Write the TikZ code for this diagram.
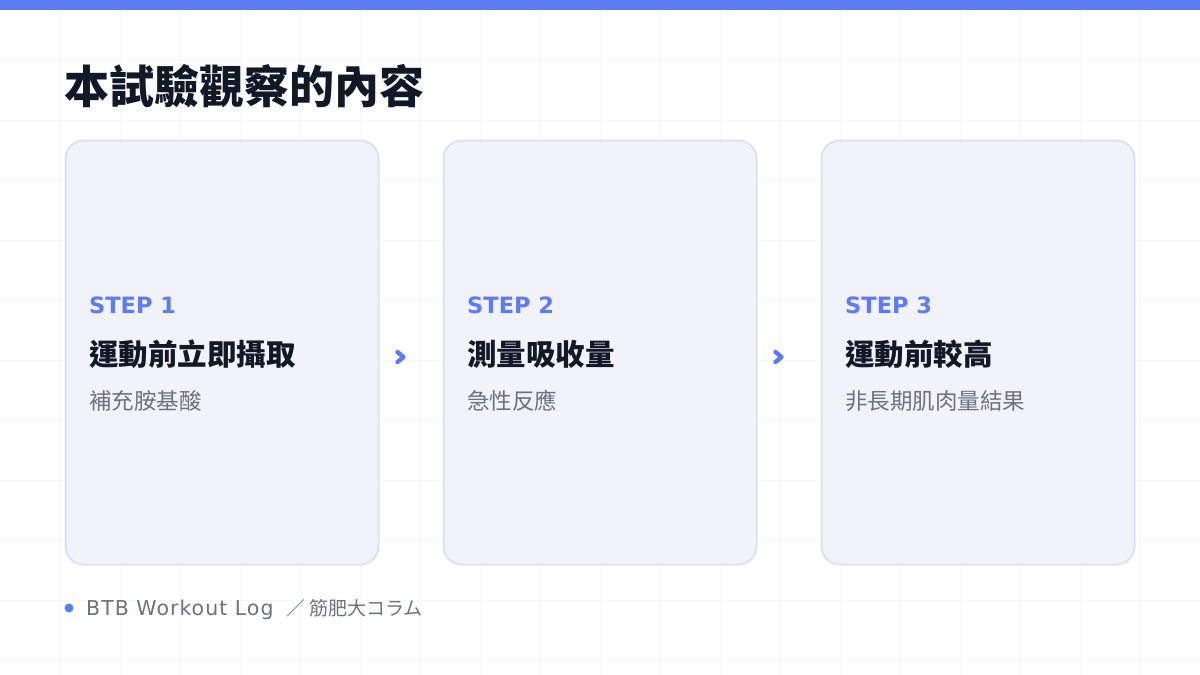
\documentclass[tikz,border=0pt]{standalone}
\usepackage{fontspec}
\usetikzlibrary{calc}
\setmainfont{Noto Sans CJK TC}
\newfontfamily\cjk{Noto Sans CJK TC}
\newfontfamily\latinsans{DejaVu Sans}
\newfontfamily\footsans{DejaVu Sans}[LetterSpace=5]
\definecolor{barblue}{HTML}{5B7CF6}
\definecolor{gridc}{HTML}{F5F6F8}
\definecolor{cardfill}{HTML}{F1F2FA}
\definecolor{cardline}{HTML}{DFE3F0}
\definecolor{inkdark}{HTML}{111827}
\definecolor{inkgray}{HTML}{6B7280}
\tikzset{
  card/.style={draw=cardline, line width=2pt, fill=cardfill, rounded corners=18pt},
  steplabel/.style={anchor=west, inner sep=0pt, text=barblue, font=\latinsans\bfseries\fontsize{22.5}{27}\selectfont},
  headtext/.style={anchor=west, inner sep=0pt, text=inkdark, font=\cjk\bfseries\fontsize{29.5}{34}\selectfont},
  subtext/.style={anchor=west, inner sep=0pt, text=inkgray, font=\cjk\fontsize{22.5}{26}\selectfont},
  foottext/.style={anchor=base west, inner sep=0pt, text=inkgray},
  chev/.style={draw=barblue, line width=4.4pt, line cap=round, line join=round},
}
\begin{document}
\begin{tikzpicture}[x=1pt,y=-1pt]
\useasboundingbox (0,0) rectangle (1200,675);
\fill[white] (0,0) rectangle (1200,675);
% grid
\foreach \gx in {60,120,...,1140} \draw[gridc, line width=1pt] (\gx,0) -- (\gx,675);
\foreach \gy in {60,120,...,660} \draw[gridc, line width=1pt] (0,\gy) -- (1200,\gy);
% top bar
\fill[barblue] (0,0) rectangle (1200,10);
% title
\node[anchor=west, inner sep=0pt, text=inkdark, font=\cjk\bfseries\fontsize{45}{50}\selectfont] (title) at (64,86) {本試驗觀察的內容};
% cards
\node[card, minimum width=313pt, minimum height=424pt, inner sep=0pt] (c1) at (222,352.5) {};
\node[card, minimum width=313pt, minimum height=424pt, inner sep=0pt] (c2) at (600,352.5) {};
\node[card, minimum width=313pt, minimum height=424pt, inner sep=0pt] (c3) at (978,352.5) {};
% card texts
\node[steplabel] (s1) at (89,305.5) {STEP 1};
\node[headtext] (h1) at (89,354) {運動前立即攝取};
\node[subtext] (t1) at (89,401) {補充胺基酸};
\node[steplabel] (s2) at (467,305.5) {STEP 2};
\node[headtext] (h2) at (467,354) {測量吸收量};
\node[subtext] (t2) at (467,401) {急性反應};
\node[steplabel] (s3) at (845,305.5) {STEP 3};
\node[headtext] (h3) at (845,354) {運動前較高};
\node[subtext] (t3) at (845,401) {非長期肌肉量結果};
% chevrons
\coordinate (a1) at (401,357);
\coordinate (a2) at (779,357);
\draw[chev] ($(a1)+(-3.5,-5)$) -- ($(a1)+(2.5,0)$) -- ($(a1)+(-3.5,5)$);
\draw[chev] ($(a2)+(-3.5,-5)$) -- ($(a2)+(2.5,0)$) -- ($(a2)+(-3.5,5)$);
% footer
\fill[barblue] (69,608) circle (4.5pt);
\node[foottext, font=\footsans\fontsize{20.5}{24}\selectfont] (foot) at (86,615) {BTB Workout Log};
\node[foottext, font=\cjk\fontsize{19}{24}\selectfont] (foot2) at (286,615) {／ 筋肥大コラム};
\end{tikzpicture}
\end{document}
